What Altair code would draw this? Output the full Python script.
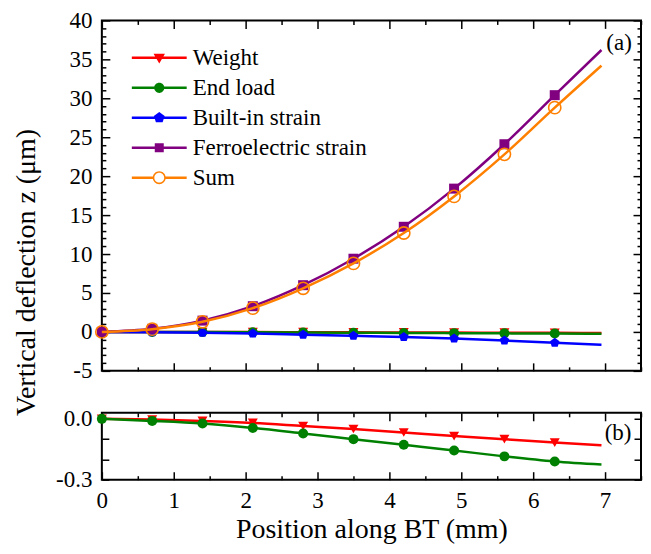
import altair as alt
import pandas as pd

# ---------------- data ----------------
series = ["Weight", "End load", "Built-in strain", "Ferroelectric strain", "Sum"]
colors = ["#FF0000", "#008000", "#0000FF", "#800080", "#FF8000"]

x_markers = [0.0, 0.7, 1.4, 2.1, 2.8, 3.5, 4.2, 4.9, 5.6, 6.3]
x_end = 6.95

weight = [0.0, -0.003, -0.01, -0.02, -0.035, -0.05, -0.067, -0.085, -0.10, -0.117, -0.13]
end_load = [0.0, -0.01, -0.023, -0.045, -0.072, -0.10, -0.128, -0.156, -0.185, -0.21, -0.225]
built_in = [0.0, -0.03, -0.1, -0.2, -0.35, -0.5, -0.65, -0.85, -1.1, -1.4, -1.65]
ferro = [0.0, 0.4, 1.45, 3.3, 6.0, 9.4, 13.5, 18.4, 24.1, 30.4, 36.2]
total = [0.0, 0.35, 1.3, 3.05, 5.6, 8.8, 12.7, 17.4, 22.8, 28.8, 34.2]

values = {
    "Weight": weight,
    "End load": end_load,
    "Built-in strain": built_in,
    "Ferroelectric strain": ferro,
    "Sum": total,
}

x_ticks = [i * 0.5 for i in range(16)]
y_ticks_a = list(range(-5, 41))
y_ticks_b = [0.0, -0.1, -0.2, -0.3]

FONT = "Liberation Serif"
W = 540

PENT = "M0,-1L0.951,-0.309L0.588,0.809L-0.588,0.809L-0.951,-0.309Z"
marker_shape = {
    "Weight": "triangle-down",
    "End load": "circle",
    "Built-in strain": PENT,
    "Ferroelectric strain": "square",
    "Sum": "circle",
}

# legend symbols: line segment + marker in one path (unit = sqrt(size)/2)
L, T = 4.58, 0.21
seg = f"M{-L},{-T}H{L}V{T}H{-L}Z"
def circ(r):
    return f"M{r},0A{r},{r} 0 1,1 {-r},0A{r},{r} 0 1,1 {r},0Z"
def circ_rev(r):
    return f"M{r},0A{r},{r} 0 1,0 {-r},0A{r},{r} 0 1,0 {r},0Z"
legend_paths = [
    seg + "M-0.95,-0.7L0.95,-0.7L0,0.95Z",
    seg + circ(0.85),
    seg + "M0,-0.95L0.904,-0.294L0.559,0.769L-0.559,0.769L-0.904,-0.294Z",
    seg + "M-0.75,-0.75H0.75V0.75H-0.75Z",
    f"M{-L},{-T}H-1.0V{T}H{-L}Z" + f"M1.0,{-T}H{L}V{T}H1.0Z" + circ(1.08) + circ_rev(0.82),
]


def line_df(name):
    xs = x_markers + [x_end]
    return pd.DataFrame({"x": xs, "y": values[name]})


def pts_df(name):
    return pd.DataFrame({"x": x_markers, "y": values[name][: len(x_markers)]})


def make_panel(names, ydomain, ax_main_x, ax_main_y, ax_mir_x, ax_mir_y, h, legend, tag, tag_xy):
    xs = alt.Scale(domain=[0, 7.5], nice=False, zero=False)
    ys = alt.Scale(domain=ydomain, nice=False, zero=False)
    layers = []
    first = True
    for name in names:
        c = colors[series.index(name)]
        ln = alt.Chart(line_df(name)).mark_line(
            color=c, strokeWidth=2.5, interpolate="monotone"
        ).encode(
            x=alt.X("x:Q", scale=xs, axis=ax_main_x if first else None),
            y=alt.Y("y:Q", scale=ys, axis=ax_main_y if first else None),
        )
        if name == "Sum":
            pm = alt.Chart(pts_df(name)).mark_point(
                shape="circle", filled=False, color=c, size=150, strokeWidth=1.6, opacity=1
            )
        else:
            pm = alt.Chart(pts_df(name)).mark_point(
                shape=marker_shape[name], filled=True, color=c, size=100, opacity=1
            )
        pt = pm.encode(
            x=alt.X("x:Q", scale=xs, axis=ax_mir_x if first else None),
            y=alt.Y("y:Q", scale=ys, axis=ax_mir_y if first else None),
        )
        layers += [ln, pt]
        first = False

    if legend:
        leg = alt.Legend(
            orient="none", legendX=46, legendY=26, direction="vertical", title=None,
            symbolSize=144, symbolStrokeWidth=0, labelFont=FONT, labelFontSize=23,
            labelColor="black", labelOffset=22, rowPadding=6, padding=0, labelLimit=400,
        )
        legdf = pd.DataFrame({"series": series})
        lg = alt.Chart(legdf).transform_filter("false").mark_point(filled=True, opacity=1).encode(
            shape=alt.Shape("series:N", scale=alt.Scale(domain=series, range=legend_paths), legend=leg),
            color=alt.Color("series:N", scale=alt.Scale(domain=series, range=colors), legend=leg),
        )
        layers.append(lg)

    tdf = pd.DataFrame({"t": [tag]})
    tx = alt.Chart(tdf).mark_text(font=FONT, fontSize=23, color="black").encode(
        text="t:N", x=alt.value(tag_xy[0]), y=alt.value(tag_xy[1])
    )
    layers.append(tx)

    return alt.layer(*layers).resolve_axis(x="independent", y="independent").properties(
        width=W, height=h
    )


x_tick_expr = alt.ExprRef("datum.value % 1 == 0 ? -8 : -4")
common = dict(domain=False, grid=False, values=x_ticks, tickColor="black", tickWidth=1.5)

# panel (a)
ax_a_xb = alt.Axis(orient="bottom", labels=False, title=None, tickSize=x_tick_expr, **common)
ax_a_xt = alt.Axis(orient="top", labels=False, title=None, tickSize=x_tick_expr, **common)
y_tick_expr = alt.ExprRef("datum.value % 5 == 0 ? -8 : -4")
ax_a_yl = alt.Axis(
    orient="left", domain=False, grid=False, values=y_ticks_a, tickColor="black", tickWidth=1.5,
    tickSize=y_tick_expr,
    labelExpr="datum.value % 5 == 0 ? replace(format(datum.value, 'd'), '\u2212', '-') : ''",
    labelPadding=18, labelFont=FONT, labelFontSize=23, labelColor="black",
    title="Vertical deflection z (\u03bcm)", titleFont=FONT, titleFontSize=28, titleFontWeight="normal",
    titleColor="black", titleAngle=270, titleX=-75, titleY=252, titleBaseline="middle", titleAlign="center",
)
ax_a_yr = alt.Axis(
    orient="right", domain=False, grid=False, values=y_ticks_a, tickColor="black", tickWidth=1.5,
    tickSize=y_tick_expr, labels=False, title=None,
)

# panel (b)
ax_b_xb = alt.Axis(
    orient="bottom", tickSize=x_tick_expr,
    labelExpr="datum.value % 1 == 0 ? format(datum.value, 'd') : ''",
    labelPadding=18, labelFont=FONT, labelFontSize=23, labelColor="black", labelFlush=False,
    title="Position along BT (mm)", titleFont=FONT, titleFontSize=28, titleFontWeight="normal",
    titleColor="black", titlePadding=3, **common,
)
ax_b_xt = alt.Axis(orient="top", labels=False, title=None, tickSize=x_tick_expr, **common)
yb_expr = alt.ExprRef("-7")
ax_b_yl = alt.Axis(
    orient="left", domain=False, grid=False, values=y_ticks_b, tickColor="black", tickWidth=1.5,
    tickSize=yb_expr,
    labelExpr="abs(datum.value) < 1e-6 ? '0.0' : (abs(datum.value + 0.3) < 1e-6 ? '-0.3' : '')",
    labelPadding=17, labelFont=FONT, labelFontSize=23, labelColor="black", title=None,
)
ax_b_yr = alt.Axis(
    orient="right", domain=False, grid=False, values=y_ticks_b, tickColor="black", tickWidth=1.5,
    tickSize=yb_expr, labels=False, title=None,
)

top = make_panel(series, [-5, 40], ax_a_xb, ax_a_yl, ax_a_xt, ax_a_yr, 351, True, "(a)", (518, 23))
bottom = make_panel(["Weight", "End load"], [-0.3, 0.03], ax_b_xb, ax_b_yl, ax_b_xt, ax_b_yr, 67,
                    False, "(b)", (517, 20))

chart = alt.vconcat(top, bottom, spacing=42, bounds="flush").properties(
    padding={"left": 4, "top": 0, "right": 0, "bottom": 0}
).configure(
    background="white", font=FONT
).configure_view(
    stroke="black", strokeWidth=2
).configure_axis(
    labelFont=FONT, titleFont=FONT
).configure_legend(
    labelFont=FONT
).configure_text(font=FONT)

chart.save("out.html", embed_options={"renderer": "svg", "actions": False})
